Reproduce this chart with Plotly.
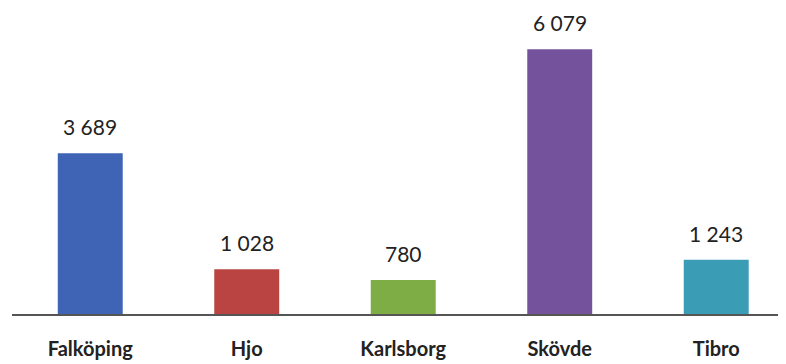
import plotly.graph_objects as go

categories = ["Falköping", "Hjo", "Karlsborg", "Skövde", "Tibro"]
values = [3689, 1028, 780, 6079, 1243]
colors = ["#3f64b6", "#b94441", "#7fad45", "#74539c", "#3a9db5"]

labels = [f"{v:,}".replace(",", " ") for v in values]

fig = go.Figure()
fig.add_trace(go.Bar(
    x=categories, y=values, marker=dict(color=colors, line=dict(width=0)),
    width=0.415, hoverinfo="skip",
))
for c, v, t in zip(categories, values, labels):
    fig.add_annotation(x=c, y=v, text=t, showarrow=False, yanchor="bottom",
                       yshift=12, font=dict(family="Lato, Open Sans, sans-serif", size=21, color="#222"))

fig.update_layout(
    width=786, height=364,
    margin=dict(l=4, r=0, t=1, b=58),
    paper_bgcolor="white", plot_bgcolor="white",
    showlegend=False,
    xaxis=dict(range=[-0.5, 4.497], showline=True, linecolor="#555", linewidth=2,
               ticks="", showgrid=False, zeroline=False,
               tickfont=dict(family="Lato, Open Sans, sans-serif", size=20, color="#222", weight="bold"),
               ticklabelstandoff=16),
    yaxis=dict(range=[0, 7000], visible=False, showgrid=False, zeroline=False),
)

fig.write_html("out.html")
